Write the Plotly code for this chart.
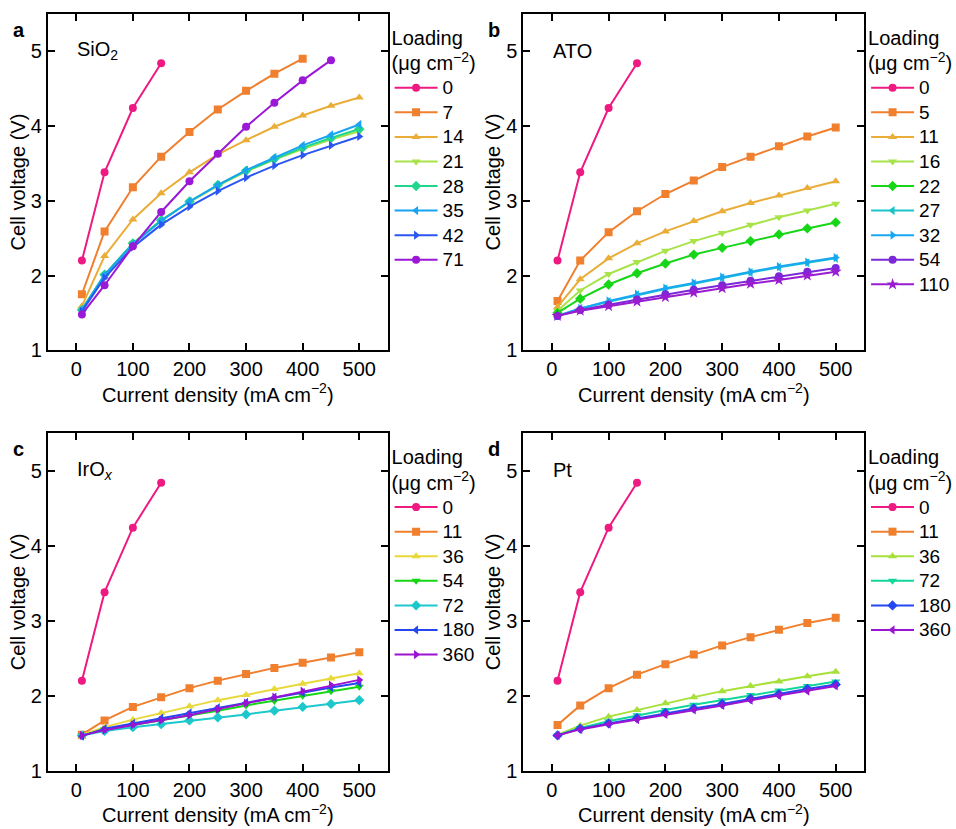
import plotly.graph_objects as go

# ---------------- data ----------------
current_density = [10, 50, 100, 150, 200, 250, 300, 350, 400, 450, 500]
x_ticks = [0, 100, 200, 300, 400, 500]
y_ticks = [1, 2, 3, 4, 5]

# Panel a: SiO2
sio2_loadings = ["0", "7", "14", "21", "28", "35", "42", "71"]
sio2_voltages = [
    [2.20, 3.38, 4.24, 4.84],
    [1.75, 2.59, 3.18, 3.59, 3.92, 4.22, 4.47, 4.70, 4.90],
    [1.59, 2.26, 2.75, 3.10, 3.38, 3.62, 3.81, 3.99, 4.14, 4.27, 4.38],
    [1.55, 2.01, 2.43, 2.74, 2.98, 3.20, 3.39, 3.55, 3.69, 3.82, 3.93],
    [1.54, 2.01, 2.43, 2.74, 2.99, 3.21, 3.40, 3.56, 3.71, 3.84, 3.96],
    [1.54, 2.01, 2.42, 2.73, 2.99, 3.21, 3.41, 3.58, 3.74, 3.88, 4.02],
    [1.52, 1.97, 2.38, 2.68, 2.92, 3.13, 3.31, 3.47, 3.61, 3.74, 3.86],
    [1.48, 1.87, 2.39, 2.85, 3.26, 3.63, 3.99, 4.31, 4.61, 4.88],
]

# Panel b: ATO
ato_loadings = ["0", "5", "11", "16", "22", "27", "32", "54", "110"]
ato_voltages = [
    [2.20, 3.38, 4.24, 4.84],
    [1.66, 2.20, 2.58, 2.86, 3.09, 3.27, 3.45, 3.59, 3.73, 3.86, 3.98],
    [1.58, 1.95, 2.23, 2.43, 2.59, 2.73, 2.86, 2.97, 3.07, 3.17, 3.26],
    [1.53, 1.80, 2.02, 2.18, 2.33, 2.46, 2.57, 2.68, 2.78, 2.87, 2.96],
    [1.50, 1.69, 1.88, 2.03, 2.16, 2.28, 2.37, 2.46, 2.55, 2.63, 2.71],
    [1.46, 1.56, 1.65, 1.74, 1.82, 1.89, 1.97, 2.04, 2.11, 2.17, 2.23],
    [1.46, 1.56, 1.66, 1.75, 1.83, 1.90, 1.98, 2.05, 2.12, 2.18, 2.24],
    [1.46, 1.54, 1.61, 1.68, 1.75, 1.81, 1.87, 1.93, 1.99, 2.05, 2.10],
    [1.46, 1.53, 1.59, 1.65, 1.71, 1.77, 1.83, 1.89, 1.94, 2.00, 2.05],
]

# Panel c: IrOx
irox_loadings = ["0", "11", "36", "54", "72", "180", "360"]
irox_voltages = [
    [2.20, 3.38, 4.24, 4.84],
    [1.48, 1.67, 1.85, 1.98, 2.10, 2.20, 2.29, 2.37, 2.44, 2.51, 2.58],
    [1.48, 1.58, 1.68, 1.77, 1.86, 1.94, 2.01, 2.09, 2.16, 2.23, 2.30],
    [1.47, 1.55, 1.61, 1.67, 1.73, 1.80, 1.87, 1.93, 2.00, 2.06, 2.12],
    [1.47, 1.53, 1.58, 1.62, 1.67, 1.71, 1.75, 1.80, 1.85, 1.89, 1.94],
    [1.46, 1.56, 1.63, 1.70, 1.77, 1.84, 1.91, 1.98, 2.04, 2.11, 2.17],
    [1.47, 1.54, 1.61, 1.67, 1.74, 1.82, 1.90, 1.98, 2.06, 2.14, 2.21],
]

# Panel d: Pt
pt_loadings = ["0", "11", "36", "72", "180", "360"]
pt_voltages = [
    [2.20, 3.38, 4.24, 4.84],
    [1.61, 1.87, 2.10, 2.28, 2.42, 2.55, 2.67, 2.78, 2.88, 2.97, 3.04],
    [1.48, 1.60, 1.72, 1.81, 1.90, 1.98, 2.06, 2.13, 2.19, 2.26, 2.32],
    [1.47, 1.57, 1.66, 1.74, 1.81, 1.88, 1.94, 2.01, 2.07, 2.13, 2.19],
    [1.47, 1.56, 1.63, 1.70, 1.77, 1.83, 1.89, 1.96, 2.02, 2.09, 2.15],
    [1.47, 1.55, 1.62, 1.68, 1.75, 1.81, 1.87, 1.94, 2.00, 2.06, 2.13],
]

# ---------------- styles ----------------
PINK = "#ee1a82"
ORANGE = "#f07f2e"
sio2_colors = [PINK, ORANGE, "#e9ad38", "#a8e34a", "#1fd68c", "#18a4f0", "#2a56f2", "#9a18d6"]
sio2_symbols = ["circle", "square", "triangle-up", "triangle-down", "diamond",
                "triangle-left", "triangle-right", "circle"]
ato_colors = [PINK, ORANGE, "#e9ad38", "#a8e34a", "#17d617", "#1ac3c9", "#18a8f2", "#7b28d8", "#9a1cd0"]
ato_symbols = ["circle", "square", "triangle-up", "triangle-down", "diamond",
               "triangle-left", "triangle-right", "circle", "star"]
irox_colors = [PINK, ORANGE, "#e8d83a", "#14d614", "#1cc8cc", "#2447f0", "#9b12d2"]
irox_symbols = ["circle", "square", "triangle-up", "triangle-down", "diamond",
                "triangle-left", "triangle-right"]
pt_colors = [PINK, ORANGE, "#a8e03a", "#12d69a", "#2348f0", "#9b14d2"]
pt_symbols = ["circle", "square", "triangle-up", "triangle-down", "diamond", "triangle-left"]

FONT = "Liberation Sans, Arial, sans-serif"
W, H = 956, 829
FS = 20

panels = [
    dict(loadings=sio2_loadings, volts=sio2_voltages, colors=sio2_colors, symbols=sio2_symbols,
         ax="", legend="legend", px=(48, 388), py=(14, 355), letter="a", label="SiO<sub>2</sub>"),
    dict(loadings=ato_loadings, volts=ato_voltages, colors=ato_colors, symbols=ato_symbols,
         ax="2", legend="legend2", px=(524, 865), py=(14, 355), letter="b", label="ATO"),
    dict(loadings=irox_loadings, volts=irox_voltages, colors=irox_colors, symbols=irox_symbols,
         ax="3", legend="legend3", px=(48, 388), py=(439, 781), letter="c", label="IrO<sub><i>x</i></sub>"),
    dict(loadings=pt_loadings, volts=pt_voltages, colors=pt_colors, symbols=pt_symbols,
         ax="4", legend="legend4", px=(524, 865), py=(439, 781), letter="d", label="Pt"),
]

fig = go.Figure()
layout = dict(
    width=W, height=H,
    margin=dict(l=0, r=0, t=0, b=0),
    paper_bgcolor="white", plot_bgcolor="white",
    font=dict(family=FONT, size=FS, color="black"),
    showlegend=True,
    annotations=[],
)

for p in panels:
    xa = "x" + p["ax"]
    ya = "y" + p["ax"]
    for lab, v, c, s in zip(p["loadings"], p["volts"], p["colors"], p["symbols"]):
        fig.add_trace(go.Scatter(
            x=current_density[:len(v)], y=v,
            name="<span style='font-size:19px'>" + lab + "</span>",
            mode="lines+markers",
            line=dict(color=c, width=2),
            marker=dict(symbol=s, size=8 if s != "star" else 9, color=c, line=dict(width=0)),
            xaxis=xa, yaxis=ya, legend=p["legend"],
        ))
    x0, x1 = p["px"]
    y0, y1 = p["py"]
    axcommon = dict(showline=True, linecolor="black", linewidth=2, mirror="ticks",
                    ticks="inside", ticklen=7, tickwidth=2, tickcolor="black",
                    showgrid=False, zeroline=False,
                    tickfont=dict(family=FONT, size=FS, color="black"))
    layout["xaxis" + p["ax"]] = dict(
        domain=[x0 / W, x1 / W], range=[-50, 550], tickvals=x_ticks,
        anchor=ya,
        title=dict(text="Current density (mA cm<sup>\u22122</sup>)", standoff=0,
                   font=dict(family=FONT, size=FS)),
        **axcommon)
    layout["yaxis" + p["ax"]] = dict(
        domain=[1 - y1 / H, 1 - y0 / H], range=[1, 5.5], tickvals=y_ticks,
        anchor=xa,
        title=dict(text="Cell voltage (V)", standoff=0, font=dict(family=FONT, size=FS)),
        **axcommon)
    layout[p["legend"]] = dict(
        x=(x1 + 2) / W, xanchor="left", y=1 - (y0 + 6) / H, yanchor="top",
        bgcolor="rgba(0,0,0,0)", borderwidth=0,
        font=dict(family=FONT, size=16.6, color="black"),
        title=dict(text="<span style='font-size:20px'>Loading</span><br>"
                        "<span style='font-size:20px'>(\u03bcg cm<sup>\u22122</sup>)</span>",
                   font=dict(family=FONT, size=19.5, color="black")),
        tracegroupgap=0, itemwidth=43,
    )
    layout["annotations"].append(dict(
        text="<b>" + p["letter"] + "</b>", xref="paper", yref="paper",
        x=(x0 - 29) / W, y=1 - (y0 + 16) / H, xanchor="center", yanchor="middle",
        showarrow=False, font=dict(family=FONT, size=FS, color="black")))
    layout["annotations"].append(dict(
        text=p["label"], xref=xa + " domain", yref=ya + " domain",
        x=0.08, y=0.89, xanchor="left", yanchor="middle",
        showarrow=False, font=dict(family=FONT, size=FS, color="black")))

fig.update_layout(**layout)
fig.write_html("out.html")
